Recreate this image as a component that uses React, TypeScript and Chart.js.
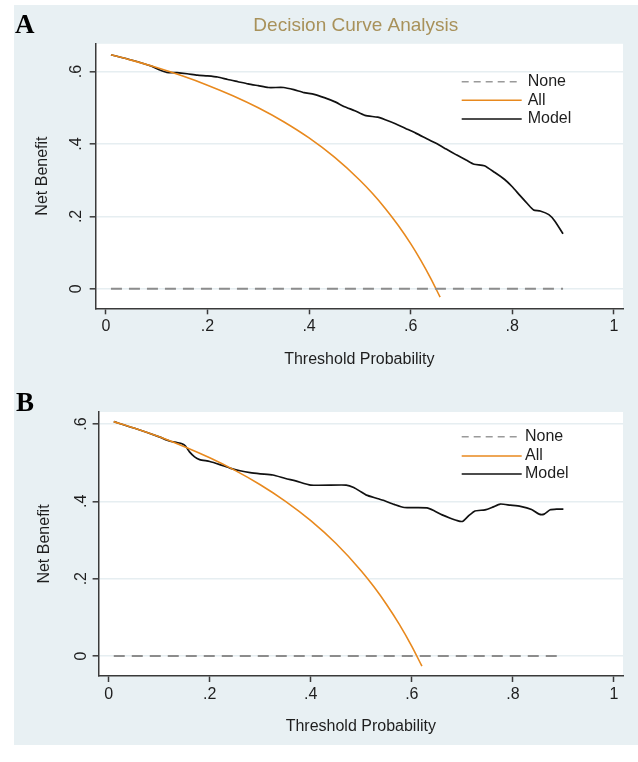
import React, { useEffect, useRef } from "react";
import { Chart, registerables } from "chart.js";

Chart.register(...registerables);

// ---------- data ----------
const xTicks = [0, 0.2, 0.4, 0.6, 0.8, 1];
const yTicks = [0, 0.2, 0.4, 0.6];

const seriesLabels = ["None", "All", "Model"];

const noneThresholds = [0.01, 0.9];
const noneValues = [0, 0];

// Panel A
const allThresholdsA = [0.01, 0.05, 0.1, 0.15, 0.2, 0.25, 0.3, 0.35, 0.4, 0.45, 0.5, 0.525, 0.55, 0.575, 0.6, 0.62, 0.64, 0.658];
const allValuesA = [0.6465, 0.6316, 0.6111, 0.5882, 0.5625, 0.5333, 0.5, 0.4615, 0.4167, 0.3636, 0.3, 0.2632, 0.2222, 0.1765, 0.125, 0.0789, 0.0278, -0.023];

const modelThresholdsA = [0.01, 0.05, 0.09, 0.105, 0.12, 0.14, 0.16, 0.18, 0.2, 0.22, 0.24, 0.26, 0.28, 0.3, 0.32, 0.35, 0.37, 0.39, 0.41, 0.43, 0.45, 0.47, 0.49, 0.51, 0.535, 0.55, 0.57, 0.59, 0.61, 0.63, 0.65, 0.67, 0.69, 0.71, 0.725, 0.745, 0.765, 0.785, 0.8, 0.815, 0.83, 0.842, 0.855, 0.872, 0.884, 0.9];
const modelValuesA = [0.6465, 0.632, 0.615, 0.605, 0.598, 0.597, 0.594, 0.59, 0.588, 0.585, 0.578, 0.572, 0.566, 0.561, 0.556, 0.556, 0.55, 0.542, 0.537, 0.528, 0.517, 0.503, 0.492, 0.479, 0.474, 0.467, 0.456, 0.443, 0.43, 0.416, 0.402, 0.386, 0.37, 0.355, 0.344, 0.34, 0.322, 0.302, 0.282, 0.258, 0.235, 0.218, 0.215, 0.205, 0.187, 0.152];

// Panel B
const allThresholdsB = [0.01, 0.05, 0.1, 0.15, 0.2, 0.25, 0.3, 0.35, 0.4, 0.45, 0.5, 0.525, 0.55, 0.575, 0.6, 0.62];
const allValuesB = [0.6061, 0.5895, 0.5667, 0.5412, 0.5125, 0.48, 0.4429, 0.4, 0.35, 0.2909, 0.22, 0.1789, 0.1333, 0.0824, 0.025, -0.0263];

const modelThresholdsB = [0.01, 0.05, 0.1, 0.12, 0.135, 0.145, 0.152, 0.16, 0.17, 0.18, 0.2, 0.22, 0.24, 0.26, 0.28, 0.3, 0.325, 0.35, 0.37, 0.4, 0.47, 0.485, 0.5, 0.51, 0.53, 0.545, 0.565, 0.585, 0.63, 0.645, 0.66, 0.675, 0.69, 0.7, 0.712, 0.725, 0.745, 0.76, 0.775, 0.795, 0.815, 0.837, 0.852, 0.862, 0.874, 0.887, 0.9];
const modelValuesB = [0.6061, 0.5895, 0.5667, 0.556, 0.552, 0.549, 0.543, 0.528, 0.515, 0.508, 0.503, 0.495, 0.486, 0.479, 0.474, 0.471, 0.468, 0.459, 0.453, 0.442, 0.442, 0.436, 0.424, 0.416, 0.408, 0.402, 0.392, 0.384, 0.383, 0.375, 0.365, 0.357, 0.35, 0.348, 0.362, 0.375, 0.378, 0.385, 0.393, 0.39, 0.387, 0.379, 0.367, 0.367, 0.378, 0.38, 0.38];

// ---------- styles ----------
const FONT = '"Liberation Sans", Arial, Helvetica, sans-serif';
const TEXT = "#1e1e1e";
const AXIS = "#3a3a3a";
const GRID = "#e6eef1";
const BG = "#e8f0f3";
const ORANGE = "#e8891e";
const BLACK = "#111111";
const GRAY = "#8c8c8c";

const pts = (xs: number[], ys: number[]) => xs.map((x, i) => ({ x, y: ys[i] }));

const fmt = (v: number) => {
  if (v === 0) return "0";
  if (v === 1) return "1";
  return String(v).replace(/^0/, "");
};

type PanelCfg = {
  letter: string;
  letterX: number;
  letterY: number;
  title?: string;
  titleX?: number;
  titleY?: number;
  legRows: number[];
  legLineStart: number;
  legLineEnd: number;
  legText: number;
  width: number;
  height: number;
  padTop: number;
  padRight: number;
  padBottom: number;
  yWidth: number;
  xHeight: number;
  yMin: number;
  yMax: number;
  yTickPad: number;
  yTitlePad: number;
  xTickPad: number;
};

function makeOverlay(cfg: PanelCfg) {
  return {
    id: "overlay" + cfg.letter,
    beforeDraw(chart: any) {
      const { ctx, chartArea: a } = chart;
      ctx.save();
      ctx.fillStyle = "#ffffff";
      ctx.fillRect(a.left, a.top, a.right - a.left, a.bottom - a.top);
      ctx.restore();
    },
    afterDraw(chart: any) {
      const { ctx, chartArea: a } = chart;
      ctx.save();
      ctx.fillStyle = "#000";
      ctx.font = 'bold 27px "Liberation Serif", "Times New Roman", serif';
      ctx.textAlign = "left";
      ctx.textBaseline = "alphabetic";
      ctx.fillText(cfg.letter, cfg.letterX, cfg.letterY);
      if (cfg.title) {
        ctx.fillStyle = "#a8915a";
        ctx.font = "19px " + FONT;
        ctx.textAlign = "center";
        ctx.fillText(cfg.title, cfg.titleX, cfg.titleY);
      }
      const x1 = a.right - cfg.legLineStart;
      const x2 = a.right - cfg.legLineEnd;
      const xt = a.right - cfg.legText;
      chart.data.datasets.forEach((ds: any, i: number) => {
        const y = a.top + cfg.legRows[i];
        ctx.beginPath();
        ctx.setLineDash(ds.legendDash || []);
        ctx.strokeStyle = ds.legendColor || ds.borderColor;
        ctx.lineWidth = 1.5;
        ctx.moveTo(x1, y);
        ctx.lineTo(x2, y);
        ctx.stroke();
        ctx.setLineDash([]);
        ctx.fillStyle = TEXT;
        ctx.font = "16px " + FONT;
        ctx.textAlign = "left";
        ctx.textBaseline = "middle";
        ctx.fillText(ds.label, xt, y);
      });
      ctx.restore();
    },
  };
}

function buildChart(canvas: HTMLCanvasElement, cfg: PanelCfg, allX: number[], allY: number[], modX: number[], modY: number[]) {
  const zeroPad = (s: any) => {
    s.paddingTop = 0;
    s.paddingBottom = 0;
    s.paddingLeft = 0;
    s.paddingRight = 0;
  };
  return new Chart(canvas, {
    type: "line",
    data: {
      datasets: [
        {
          label: seriesLabels[0],
          data: pts(noneThresholds, noneValues),
          borderColor: GRAY,
          borderWidth: 2,
          borderDash: [11, 7],
          legendDash: [7, 5],
          legendColor: "#9a9a9a",
          pointRadius: 0,
          fill: false,
        } as any,
        {
          label: seriesLabels[1],
          data: pts(allX, allY),
          borderColor: ORANGE,
          borderWidth: 1.6,
          cubicInterpolationMode: "monotone",
          pointRadius: 0,
          fill: false,
        },
        {
          label: seriesLabels[2],
          data: pts(modX, modY),
          borderColor: BLACK,
          borderWidth: 1.7,
          tension: 0.2,
          pointRadius: 0,
          fill: false,
        },
      ],
    },
    options: {
      responsive: false,
      animation: false,
      devicePixelRatio: 1,
      layout: { padding: { left: 0, right: cfg.padRight, top: cfg.padTop, bottom: cfg.padBottom } },
      plugins: { legend: { display: false }, tooltip: { enabled: false }, title: { display: false } },
      scales: {
        x: {
          type: "linear",
          min: -0.02,
          max: 1.018,
          afterBuildTicks: (s: any) => {
            s.ticks = xTicks.map((value) => ({ value }));
          },
          afterFit: (s: any) => {
            s.height = cfg.xHeight;
            zeroPad(s);
          },
          grid: { drawOnChartArea: false, drawTicks: true, tickLength: 6, tickColor: AXIS, tickWidth: 1.5 },
          border: { display: true, color: AXIS, width: 1.5 },
          ticks: {
            autoSkip: false,
            minRotation: 0,
            maxRotation: 0,
            padding: cfg.xTickPad,
            color: TEXT,
            font: { family: FONT, size: 16 },
            callback: (v: any) => fmt(Number(v)),
          },
          title: {
            display: true,
            text: "Threshold Probability",
            color: TEXT,
            font: { family: FONT, size: 16 },
            padding: { top: 0, bottom: 0 },
          },
        },
        y: {
          type: "linear",
          min: cfg.yMin,
          max: cfg.yMax,
          afterBuildTicks: (s: any) => {
            s.ticks = yTicks.map((value) => ({ value }));
          },
          afterFit: (s: any) => {
            s.width = cfg.yWidth;
            zeroPad(s);
          },
          grid: { color: GRID, lineWidth: 1.6, drawTicks: true, tickLength: 6, tickColor: AXIS, tickWidth: 1.5 },
          border: { display: true, color: AXIS, width: 1.5 },
          ticks: {
            autoSkip: false,
            minRotation: 90,
            maxRotation: 90,
            crossAlign: "center",
            padding: cfg.yTickPad,
            color: TEXT,
            font: { family: FONT, size: 16 },
            callback: (v: any) => fmt(Number(v)),
          },
          title: {
            display: true,
            text: "Net Benefit",
            color: TEXT,
            font: { family: FONT, size: 16 },
            padding: { top: cfg.yTitlePad, bottom: 0 },
          },
        },
      },
    } as any,
    plugins: [makeOverlay(cfg)],
  });
}

const cfgA: PanelCfg = {
  letter: "A",
  letterX: 1,
  letterY: 28.3,
  title: "Decision Curve Analysis",
  titleX: 341.8,
  titleY: 25.7,
  legRows: [37.9, 56.5, 75.2],
  legLineStart: 161.3,
  legLineEnd: 101.3,
  legText: 95.3,
  width: 624,
  height: 375,
  padTop: 38.8,
  padRight: 15,
  padBottom: 10.4,
  yWidth: 81.7,
  xHeight: 61.3,
  yMin: -0.0537,
  yMax: 0.6767,
  yTickPad: 6,
  yTitlePad: 18.9,
  xTickPad: 3,
};

const cfgB: PanelCfg = {
  letter: "B",
  letterX: 2,
  letterY: 31,
  legRows: [24.8, 44, 62],
  legLineStart: 161.3,
  legLineEnd: 101.3,
  legText: 98,
  width: 624,
  height: 365,
  padTop: 32,
  padRight: 15,
  padBottom: 8.7,
  yWidth: 84.6,
  xHeight: 60.3,
  yMin: -0.0517,
  yMax: 0.631,
  yTickPad: 4,
  yTitlePad: 20.9,
  xTickPad: 3.4,
};

export default function App() {
  const refA = useRef<HTMLCanvasElement | null>(null);
  const refB = useRef<HTMLCanvasElement | null>(null);

  useEffect(() => {
    Chart.defaults.font.family = FONT;
    const a = buildChart(refA.current as HTMLCanvasElement, cfgA, allThresholdsA, allValuesA, modelThresholdsA, modelValuesA);
    const b = buildChart(refB.current as HTMLCanvasElement, cfgB, allThresholdsB, allValuesB, modelThresholdsB, modelValuesB);
    return () => {
      a.destroy();
      b.destroy();
    };
  }, []);

  return (
    <div style={{ position: "absolute", left: 0, top: 0, width: 638, height: 762, background: "#ffffff", overflow: "hidden" }}>
      <div style={{ position: "absolute", left: 14, top: 5, width: 624, height: 740, background: BG }} />
      <canvas
        ref={refA}
        width={cfgA.width}
        height={cfgA.height}
        style={{ position: "absolute", left: 14, top: 5, width: cfgA.width, height: cfgA.height }}
      />
      <canvas
        ref={refB}
        width={cfgB.width}
        height={cfgB.height}
        style={{ position: "absolute", left: 14, top: 380, width: cfgB.width, height: cfgB.height }}
      />
    </div>
  );
}
